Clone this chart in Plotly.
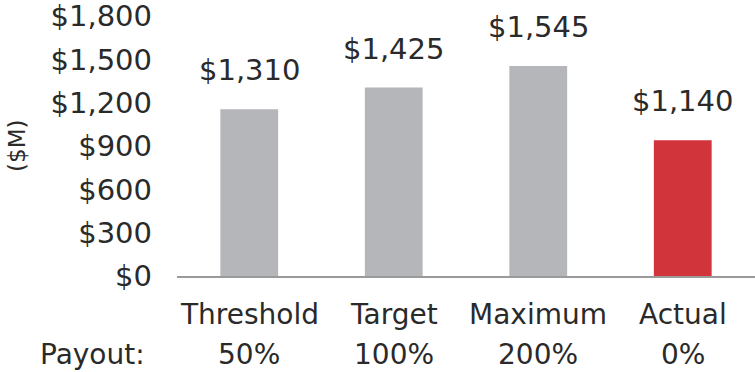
import plotly.graph_objects as go

categories = ["Threshold", "Target", "Maximum", "Actual"]
payouts = ["50%", "100%", "200%", "0%"]
bar_values = [1155, 1305, 1455, 940]
bar_labels = ["$1,310", "$1,425", "$1,545", "$1,140"]
bar_colors = ["#b5b6b9", "#b5b6b9", "#b5b6b9", "#d1343a"]
y_ticks = [0, 300, 600, 900, 1200, 1500, 1800]
y_tick_labels = ["$0", "$300", "$600", "$900", "$1,200", "$1,500", "$1,800"]

FONT = "DejaVu Sans"
TXT = "#2a2a2a"

fig = go.Figure()
fig.add_trace(go.Bar(x=categories, y=bar_values, marker_color=bar_colors,
                     marker_line_width=0, hoverinfo="skip"))

annotations = []
for c, v, lab in zip(categories, bar_values, bar_labels):
    annotations.append(dict(x=c, y=v, xref="x", yref="y", text=lab, showarrow=False,
                            yanchor="bottom", yshift=20,
                            font=dict(family=FONT, size=29, color=TXT)))
for c, p in zip(categories, payouts):
    annotations.append(dict(x=c, y=-0.149, xref="x", yref="paper", text=c, showarrow=False,
                            yanchor="middle", font=dict(family=FONT, size=28, color=TXT)))
    annotations.append(dict(x=c, y=-0.303, xref="x", yref="paper", text=p, showarrow=False,
                            yanchor="middle", font=dict(family=FONT, size=28, color=TXT)))
annotations.append(dict(x=0, y=-0.303, xref="paper", yref="paper", text="Payout:",
                        showarrow=False, xanchor="right", xshift=-30, yanchor="middle",
                        font=dict(family=FONT, size=28, color=TXT)))
annotations.append(dict(x=-0.277, y=0.5, xref="paper", yref="paper", text="($M)",
                        showarrow=False, textangle=-90, xanchor="center", yanchor="middle",
                        font=dict(family=FONT, size=23, color=TXT)))

fig.update_layout(
    width=755, height=372,
    margin=dict(l=177, r=0, t=16, b=96, autoexpand=False),
    plot_bgcolor="white", paper_bgcolor="white",
    showlegend=False,
    bargap=0.6,
    font=dict(family=FONT, color=TXT),
    xaxis=dict(showticklabels=False, showline=True, linecolor="#9a9a9a", linewidth=2,
               ticks="", showgrid=False, zeroline=False, automargin=False),
    yaxis=dict(range=[0, 1801], tickvals=y_ticks, ticktext=y_tick_labels,
               showgrid=False, zeroline=False, showline=False, ticks="", automargin=False,
               ticklabeloverflow="allow",
               ticklabelstandoff=24, tickfont=dict(family=FONT, size=29, color=TXT)),
    annotations=annotations,
)
fig.write_html("out.html", config={"displayModeBar": False},
               post_script="document.body.style.margin='0';")
